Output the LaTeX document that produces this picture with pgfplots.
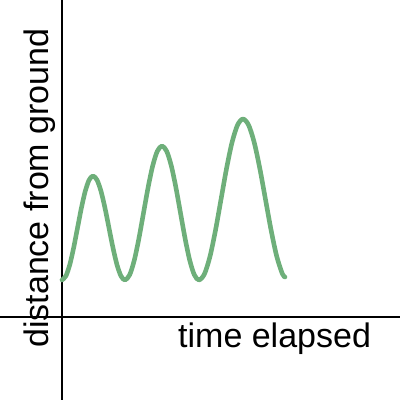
\documentclass[border=0pt]{standalone}
\usepackage{pgfplots}
\pgfplotsset{compat=1.18}
\usepackage{fontspec}
\setmainfont{Liberation Sans}
\definecolor{wave}{RGB}{110,175,122}
\begin{document}
\begin{tikzpicture}
\begin{axis}[
  scale only axis, width=400bp, height=400bp,
  xmin=-62, xmax=338, ymin=-83, ymax=317,
  axis lines=middle, axis line style={-, line width=2.8bp, black},
  xtick=\empty, ytick=\empty, clip=false,
]
\addplot[wave, line width=4.6bp, line cap=round, line join=round, smooth, tension=0.5] coordinates {
  (0,37) (3.875,40.96) (7.75,52.23) (11.625,69.10) (15.5,89) (19.375,108.90) (23.25,125.77) (27.125,137.04) (31,141)
  (35,137.04) (39,125.77) (43,108.90) (47,89) (51,69.10) (55,52.23) (59,40.96) (63,37)
  (67.625,42.11) (72.25,56.62) (76.875,78.37) (81.5,104) (86.125,129.63) (90.75,151.38) (95.375,165.89) (100,171)
  (104.625,165.89) (109.25,151.38) (113.875,129.63) (118.5,104) (123.125,78.37) (127.75,56.62) (132.375,42.11) (137,37)
  (142.5,43.13) (148,60.57) (153.5,86.70) (159,117.5) (164.5,148.30) (170,174.43) (175.5,191.87) (181,198)
  (186.625,191.87) (192.25,174.43) (197.875,148.30) (203.5,117.5) (209.125,86.70) (214.75,60.57) (220.375,43.13) (223,40)
};
\node[anchor=base west, inner sep=0pt, font=\fontsize{34bp}{40bp}\selectfont] at (axis cs:116,-30) {time elapsed};
\node[anchor=base west, rotate=90, inner sep=0pt, font=\fontsize{34bp}{40bp}\selectfont] at (axis cs:-14,-31) {distance from ground};
\end{axis}
\pgfresetboundingbox
\path (0,0) rectangle (400bp,400bp);
\end{tikzpicture}
\end{document}
